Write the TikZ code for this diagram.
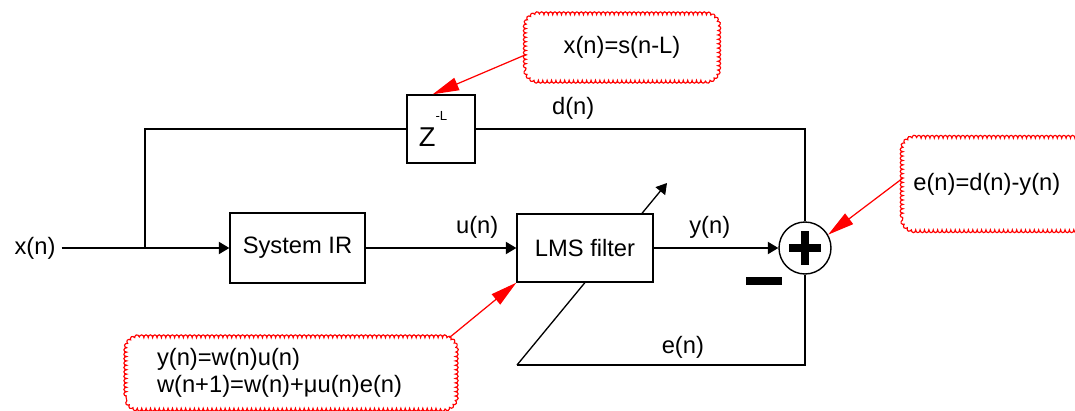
\documentclass[tikz,border=0pt]{standalone}
\usepackage{fontspec}
\setmainfont{Liberation Sans}
\usetikzlibrary{arrows.meta,decorations.pathmorphing,calc,backgrounds}
\begin{document}
\begin{tikzpicture}[x=0.02cm,y=-0.02cm,
  font=\fontsize{13.5}{15.5}\selectfont,
  block/.style={draw, line width=0.8pt, fill=white, inner sep=0pt},
  wire/.style={line width=0.75pt},
  arr/.style={wire, -{Triangle[length=6pt,width=7pt]}},
  notebox/.style={inner sep=0pt},
  scallop/.style={draw=red, line width=0.65pt,
    decoration={bumps, segment length=5pt, amplitude=1.6pt}},
  pointer/.style={red, line width=0.7pt, -{Triangle[length=15pt,width=7.5pt]}}]
  \useasboundingbox (0,0) rectangle (1075,410);
  \begin{scope}[on background layer]
    \fill[white] (0,0) rectangle (1075,410);
  \end{scope}
  \clip (0,0) rectangle (1075,410);

  % branch points of the loop
  \coordinate (split) at (145,248);
  \coordinate (fbk) at (517,365);
  \coordinate (adapt) at (667,183);

  % blocks
  \node (xin) at (35,248) {x(n)};
  \node[block, minimum width=2.7cm, minimum height=1.4cm] (sys) at (297.5,248) {System IR};
  \node[block, minimum width=2.72cm, minimum height=1.36cm] (lms) at (585,248) {LMS filter};
  \node[block, minimum size=1.36cm] (delay) at (441,129)
    {\raisebox{-2pt}{\fontsize{15.5}{15.5}\selectfont Z}\raisebox{13pt}{\fontsize{7.5}{7.5}\selectfont -L}\kern9pt};
  \node[draw, circle, line width=0.8pt, minimum size=1.04cm, inner sep=0pt] (sum) at (805,248) {};
  \node[fill, minimum width=0.72cm, minimum height=0.16cm, inner sep=0pt] (minus) at (764,281) {};

  % plus sign inside the summing junction
  \draw[line width=4.5pt] ($(sum.center)+(-16,0)$) -- ($(sum.center)+(16,0)$);
  \draw[line width=4.5pt] ($(sum.center)+(0,-17)$) -- ($(sum.center)+(0,17)$);

  % signal paths
  \draw[arr] (xin.east) -- (sys.west);
  \draw[wire] (split) |- (delay.west);
  \draw[wire] (delay.east) -| node[pos=0.148, above=2pt] {d(n)} (sum.north);
  \draw[arr] (sys.east) -- node[pos=0.74, above=2pt] {u(n)} (lms.west);
  \draw[arr] (lms.east) -- node[pos=0.45, above=2pt] {y(n)} (sum.west);
  \draw[wire] (sum.south) |- node[pos=0.712, above=0pt] {e(n)} (fbk);
  \begin{scope}[on background layer]
    \draw[arr] (fbk) -- (adapt);
  \end{scope}

  % annotations: text nodes with scalloped, rounded outlines
  \node[notebox, minimum width=3.82cm, minimum height=1.3cm] (n1) at (622,47.5) {x(n)=s(n-L)};
  \node[notebox, anchor=west, minimum height=1.82cm, text width=3.52cm, inner xsep=0.2cm, align=left]
    (n2) at (903,184) {e(n)=d(n)-y(n)};
  \node[notebox, minimum width=6.56cm, minimum height=1.4cm, text width=5.36cm, inner xsep=0.6cm, align=left]
    (n3) at (291,373) {y(n)=w(n)u(n)\\w(n+1)=w(n)+μu(n)e(n)};
  \draw[scallop] decorate {[rounded corners=7pt] (n1.south west) rectangle (n1.north east)};
  \draw[scallop] decorate {[rounded corners=7pt] (n2.south west) rectangle (n2.north east)};
  \draw[scallop] decorate {[rounded corners=7pt] (n3.south west) rectangle (n3.north east)};

  \draw[pointer] ($(n1.west)+(0,7)$) -- ($(delay.north west)!0.38!(delay.north east)$);
  \draw[pointer] ($(n2.west)+(0,-6)$) -- (sum.30);
  \draw[pointer] ($(n3.north east)+(-6,0)$) -- (lms.south west);
\end{tikzpicture}
\end{document}
